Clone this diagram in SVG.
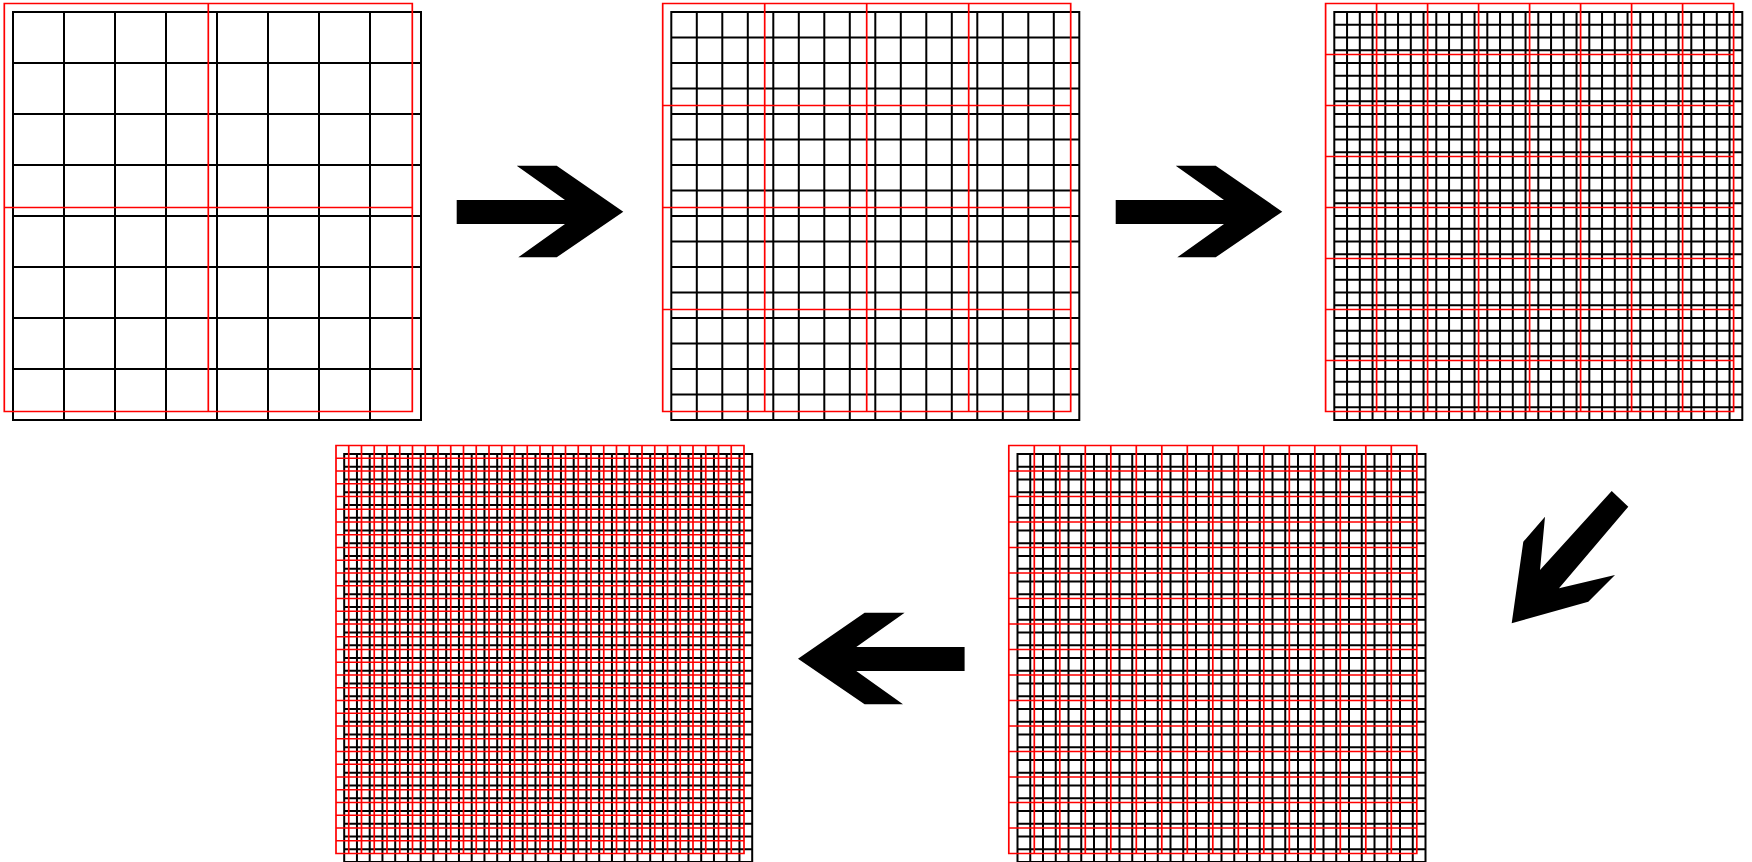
<svg xmlns="http://www.w3.org/2000/svg" xmlns:xlink="http://www.w3.org/1999/xlink" width="1752" height="862" viewBox="0 0 1752 862">
<style>
.blk{fill:none;stroke:#000;stroke-width:2;stroke-linecap:square}
.red{fill:none;stroke:#ff0000;stroke-width:1.7;stroke-linecap:square}
.arrow{fill:#000;stroke:none}
</style>
<defs>
<path id="g2" d="M0 0v408m204-408v408m204-408v408M0 0h408m-408 204h408m-408 204h408"/>
<path id="g4" d="M0 0v408m102-408v408m102-408v408m102-408v408m102-408v408M0 0h408m-408 102h408m-408 102h408m-408 102h408m-408 102h408"/>
<path id="g8" d="M0 0v408m51-408v408m51-408v408m51-408v408m51-408v408m51-408v408m51-408v408m51-408v408m51-408v408M0 0h408m-408 51h408m-408 51h408m-408 51h408m-408 51h408m-408 51h408m-408 51h408m-408 51h408m-408 51h408"/>
<path id="g16" d="M0 0v408m25.5-408v408m25.5-408v408m25.5-408v408m25.5-408v408m25.5-408v408m25.5-408v408m25.5-408v408m25.5-408v408m25.5-408v408m25.5-408v408m25.5-408v408m25.5-408v408m25.5-408v408m25.5-408v408m25.5-408v408m25.5-408v408M0 0h408m-408 25.5h408m-408 25.5h408m-408 25.5h408m-408 25.5h408m-408 25.5h408m-408 25.5h408m-408 25.5h408m-408 25.5h408m-408 25.5h408m-408 25.5h408m-408 25.5h408m-408 25.5h408m-408 25.5h408m-408 25.5h408m-408 25.5h408m-408 25.5h408"/>
<path id="g32" d="M0 0v408m12.75-408v408m12.75-408v408m12.75-408v408m12.75-408v408m12.75-408v408m12.75-408v408m12.75-408v408m12.75-408v408m12.75-408v408m12.75-408v408m12.75-408v408m12.75-408v408m12.75-408v408m12.75-408v408m12.75-408v408m12.75-408v408m12.75-408v408m12.75-408v408m12.75-408v408m12.75-408v408m12.75-408v408m12.75-408v408m12.75-408v408m12.75-408v408m12.75-408v408m12.75-408v408m12.75-408v408m12.75-408v408m12.75-408v408m12.75-408v408m12.75-408v408m12.75-408v408M0 0h408m-408 12.75h408m-408 12.75h408m-408 12.75h408m-408 12.75h408m-408 12.75h408m-408 12.75h408m-408 12.75h408m-408 12.75h408m-408 12.75h408m-408 12.75h408m-408 12.75h408m-408 12.75h408m-408 12.75h408m-408 12.75h408m-408 12.75h408m-408 12.75h408m-408 12.75h408m-408 12.75h408m-408 12.75h408m-408 12.75h408m-408 12.75h408m-408 12.75h408m-408 12.75h408m-408 12.75h408m-408 12.75h408m-408 12.75h408m-408 12.75h408m-408 12.75h408m-408 12.75h408m-408 12.75h408m-408 12.75h408m-408 12.75h408"/>
<path id="arrowR" d="M456.7 200H565L516.7 165.7H556.7L623.3 211.7L556.7 257.3H518.3L565 224H456.7Z"/>
</defs>
<rect width="1752" height="862" fill="#fff"/>
<g id="panel1">
<use xlink:href="#g8" href="#g8" class="blk" x="13" y="12"/>
<use xlink:href="#g2" href="#g2" class="red" x="4.3" y="3.5"/>
</g>
<g id="panel2">
<use xlink:href="#g16" href="#g16" class="blk" x="671.3" y="12"/>
<use xlink:href="#g4" href="#g4" class="red" x="662.7" y="3.5"/>
</g>
<g id="panel3">
<use xlink:href="#g32" href="#g32" class="blk" x="1334.3" y="12"/>
<use xlink:href="#g8" href="#g8" class="red" x="1325.6" y="3.5"/>
</g>
<g id="panel4">
<use xlink:href="#g32" href="#g32" class="blk" x="1017.5" y="454"/>
<use xlink:href="#g16" href="#g16" class="red" x="1008.8" y="445.5"/>
</g>
<g id="panel5">
<use xlink:href="#g32" href="#g32" class="blk" x="344.2" y="454"/>
<use xlink:href="#g32" href="#g32" class="red" x="336" y="445.5"/>
</g>
<g id="connectors">
<use xlink:href="#arrowR" href="#arrowR" class="arrow"/>
<use xlink:href="#arrowR" href="#arrowR" class="arrow" transform="translate(659 0)"/>
<path class="arrow" d="M1611.7 491L1628.3 506.7L1559 588.3L1615 575L1588.3 601.7L1511.7 623.3L1523.3 541.7L1545 516.7L1540 570Z"/>
<use xlink:href="#arrowR" href="#arrowR" class="arrow" transform="translate(1421.3 447) scale(-1 1)"/>
</g>
</svg>
